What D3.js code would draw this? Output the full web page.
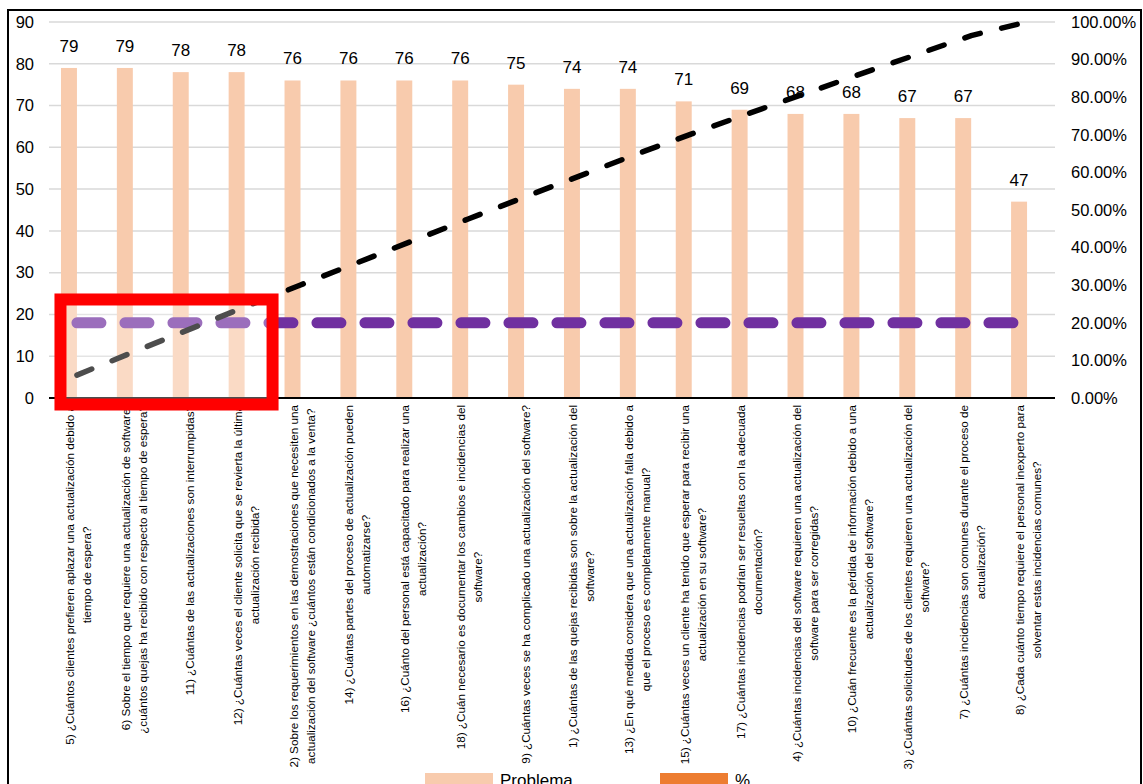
<!DOCTYPE html>
<html><head><meta charset="utf-8">
<script src="https://cdn.jsdelivr.net/npm/d3@7"></script>
<style>
html,body{margin:0;padding:0;background:#fff;overflow:hidden}
svg text{font-family:"Liberation Sans",Arial,sans-serif;}
</style></head>
<body><svg id="c" width="1143" height="784"></svg>
<script>
const categories = ["P5","P6","P11","P12","P2","P14","P16","P18","P9","P1","P13","P15","P17","P4","P10","P3","P7","P8"];
const labelLines = [
 ["5) ¿Cuántos clientes prefieren aplazar una actualización debido a","tiempo de espera?"],
 ["6) Sobre el tiempo que requiere una actualización de software","¿cuántos quejas ha recibido con respecto al tiempo de espera?"],
 ["11) ¿Cuántas de las actualizaciones son interrumpidas?"],
 ["12) ¿Cuántas veces el cliente solicita que se revierta la última","actualización recibida?"],
 ["2) Sobre los requerimientos en las demostraciones que necesiten una","actualización del software ¿cuántos están condicionados a la venta?"],
 ["14) ¿Cuántas partes del proceso de actualización pueden","automatizarse?"],
 ["16) ¿Cuánto del personal está capacitado para realizar una","actualización?"],
 ["18) ¿Cuán necesario es documentar los cambios e incidencias del","software?"],
 ["9) ¿Cuántas veces se ha complicado una actualización del software?"],
 ["1) ¿Cuántas de las quejas recibidas son sobre la actualización del","software?"],
 ["13) ¿En qué medida considera que una actualización falla debido a","que el proceso es completamente manual?"],
 ["15) ¿Cuántas veces un cliente ha tenido que esperar para recibir una","actualización en su software?"],
 ["17) ¿Cuántas incidencias podrían ser resueltas con la adecuada","documentación?"],
 ["4) ¿Cuántas incidencias del software requieren una actualización del","software para ser corregidas?"],
 ["10) ¿Cuán frecuente es la pérdida de información debido a una","actualización del software?"],
 ["3) ¿Cuántas solicitudes de los clientes requieren una actualización del","software?"],
 ["7) ¿Cuántas incidencias son comunes durante el proceso de","actualización?"],
 ["8) ¿Cada cuánto tiempo requiere el personal inexperto para","solventar estas incidencias comunes?"]
];
const problema = [79,79,78,78,76,76,76,76,75,74,74,71,69,68,68,67,67,47];
const cumulativePct = [0.0609,0.1217,0.1818,0.2419,0.3005,0.3590,0.4176,0.4761,0.5339,0.5909,0.6479,0.7026,0.7558,0.8082,0.8606,0.9122,0.9638,1.0];
const thresholdPct = 0.20;
const leftTicks = [0,10,20,30,40,50,60,70,80,90];
const rightTicks = [0,0.1,0.2,0.3,0.4,0.5,0.6,0.7,0.8,0.9,1.0];
const legendItems = [{name:"Problema",color:"#F8CBAD"},{name:"%",color:"#ED7D31"}];

const svg = d3.select("#c");
const x = d3.scaleBand().domain(categories).range([49,1055]).paddingInner(0).paddingOuter(0);
const bw = x.bandwidth();
const xSub = d3.scaleBand().domain(["Problema","%"]).range([0,bw]).paddingInner(0).paddingOuter(0.75);
const y = d3.scaleLinear().domain([0,90]).range([398,22]);
const yR = d3.scaleLinear().domain([0,1]).range([398,22]);
const cx = c => x(c) + bw/2;

// frame
svg.append("rect").attr("x",8).attr("y",10).attr("width",1133).attr("height",800)
  .attr("fill","none").attr("stroke","#000").attr("stroke-width",2);

// gridlines
svg.append("g").selectAll("line").data(leftTicks.slice(1)).join("line")
  .attr("x1",49).attr("x2",1055).attr("y1",d=>y(d)).attr("y2",d=>y(d))
  .attr("stroke","#D9D9D9").attr("stroke-width",1.5);

// left axis
const gl = svg.append("g").attr("transform","translate(34,0)")
  .call(d3.axisLeft(y).tickValues(leftTicks).tickSize(0).tickPadding(0).tickFormat(d3.format("d")));
gl.select(".domain").remove();
gl.selectAll("text").attr("font-size",16.5).attr("fill","#000").attr("font-family","Liberation Sans, Arial, sans-serif");

// right axis
const gr = svg.append("g").attr("transform","translate(1071,0)")
  .call(d3.axisRight(yR).tickValues(rightTicks).tickSize(0).tickPadding(0).tickFormat(d=>(d*100).toFixed(2)+"%"));
gr.select(".domain").remove();
gr.selectAll("text").attr("font-size",16.5).attr("fill","#000").attr("font-family","Liberation Sans, Arial, sans-serif");

// bars
svg.append("g").selectAll("rect").data(problema).join("rect")
  .attr("x",(d,i)=>x(categories[i])+xSub("Problema"))
  .attr("width",xSub.bandwidth())
  .attr("y",d=>y(d)).attr("height",d=>y(0)-y(d))
  .attr("fill","#F8CBAD");

// baseline
svg.append("line").attr("x1",49).attr("x2",1055).attr("y1",y(0)).attr("y2",y(0))
  .attr("stroke","#000").attr("stroke-width",2);

// value labels
svg.append("g").selectAll("text").data(problema).join("text")
  .attr("x",(d,i)=>x(categories[i])+xSub("Problema")+xSub.bandwidth()/2)
  .attr("y",d=>y(d)-16)
  .attr("text-anchor","middle").attr("font-size",17).attr("fill","#000")
  .text(d=>d);

// category labels
const lh = 17;
const lg = svg.append("g").selectAll("g").data(categories).join("g")
  .attr("transform",c=>`translate(${cx(c)+1},405) rotate(-90)`);
lg.each(function(c,i){
  const g = d3.select(this);
  const lines = labelLines[i];
  const t = g.append("text").attr("font-size",11.7).attr("fill","#000").attr("text-anchor","middle");
  const ts = lines.map((l,j)=>t.append("tspan").attr("y",(j-(lines.length-1)/2)*lh).attr("dominant-baseline","central").text(l));
  const wmax = d3.max(ts, s=>s.node().getComputedTextLength());
  ts.forEach(s=>s.attr("x",-wmax/2));
});

// threshold line (20%)
const line = d3.line().x(d=>d[0]).y(d=>d[1]);
svg.append("path")
  .attr("d",line(categories.map(c=>[cx(c),yR(thresholdPct)])))
  .attr("fill","none").attr("stroke","#7030A0").attr("stroke-width",11)
  .attr("stroke-linecap","round").attr("stroke-dasharray","24,24");

// cumulative line
svg.append("path")
  .attr("d",line(cumulativePct.map((v,i)=>[cx(categories[i]),yR(v)])))
  .attr("fill","none").attr("stroke","#000").attr("stroke-width",5.5)
  .attr("stroke-linecap","round").attr("stroke-dasharray","16,22");

// highlight box
const bx0 = x(categories[0])+xSub("Problema")-0.5;
const bx1 = x(categories[3])+bw;
const by0 = yR(0.262);
const by1 = y(0)+6.5;
svg.append("rect").attr("x",bx0).attr("y",by0).attr("width",bx1-bx0).attr("height",by1-by0)
  .attr("fill","#fff").attr("fill-opacity",0.3).attr("stroke","#FF0000").attr("stroke-width",12);

// legend
const leg = svg.append("g").selectAll("g").data(legendItems).join("g")
  .attr("transform",(d,i)=>`translate(${425+i*235},773)`);
leg.append("rect").attr("width",68).attr("height",20).attr("fill",d=>d.color);
leg.append("text").attr("x",75).attr("y",13).attr("font-size",17).attr("fill","#000").text(d=>d.name);
</script></body></html>
